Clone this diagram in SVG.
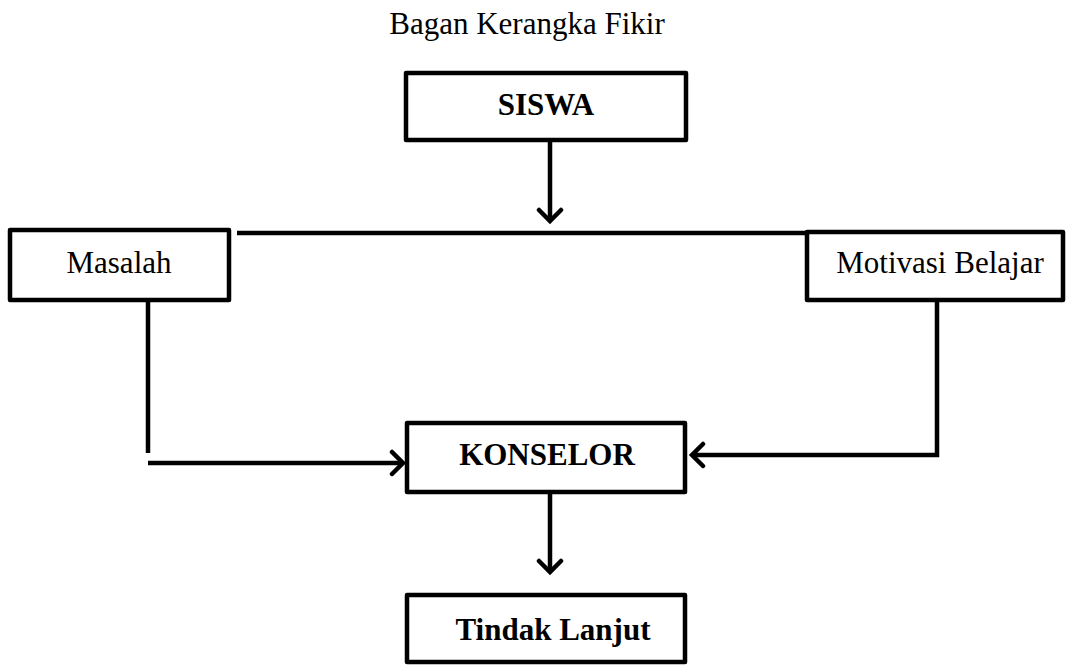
<svg xmlns="http://www.w3.org/2000/svg" width="1066" height="665" viewBox="0 0 1066 665">
<style>
.box{fill:#fff;stroke:#000;stroke-width:4.5;stroke-linejoin:round}
.ln{fill:none;stroke:#000;stroke-width:4.5}
.t{font-family:"Liberation Serif","Times New Roman",serif;fill:#000;text-anchor:middle}
.b{font-weight:bold;font-size:31px}
.r{font-size:31px}
</style>
<defs>
<marker id="ah" markerUnits="userSpaceOnUse" viewBox="-14 -14 28 28" markerWidth="28" markerHeight="28" refX="0" refY="0" orient="auto">
<polyline points="-11,-11 0,0 -11,11" fill="none" stroke="#000" stroke-width="4.5" stroke-linecap="round" stroke-linejoin="miter"/>
</marker>
</defs>
<rect width="1066" height="665" fill="#fff"/>
<text class="t r" x="527" y="34">Bagan Kerangka Fikir</text>
<g id="connectors">
<line class="ln" x1="550" y1="140" x2="550" y2="221" marker-end="url(#ah)"/>
<line class="ln" x1="237" y1="233" x2="808" y2="233"/>
<line class="ln" x1="148" y1="302" x2="148" y2="453"/>
<line class="ln" x1="148" y1="463" x2="403" y2="463" marker-end="url(#ah)"/>
<polyline class="ln" points="937,300 937,455 692,455" marker-end="url(#ah)"/>
<line class="ln" x1="550" y1="492" x2="550" y2="572" marker-end="url(#ah)"/>
</g>
<g id="siswa">
<rect class="box" x="406" y="73" width="280" height="67"/>
<text class="t b" x="546" y="115">SISWA</text>
</g>
<g id="masalah">
<rect class="box" x="10" y="230" width="219" height="70"/>
<text class="t r" x="119" y="273">Masalah</text>
</g>
<g id="motivasi">
<rect class="box" x="807" y="232" width="256" height="68"/>
<text class="t r" x="940" y="273">Motivasi Belajar</text>
</g>
<g id="konselor">
<rect class="box" x="407" y="423" width="278" height="69"/>
<text class="t b" x="547" y="465">KONSELOR</text>
</g>
<g id="tindak">
<rect class="box" x="407" y="595" width="278" height="67"/>
<text class="t b" x="553" y="640">Tindak Lanjut</text>
</g>
</svg>
